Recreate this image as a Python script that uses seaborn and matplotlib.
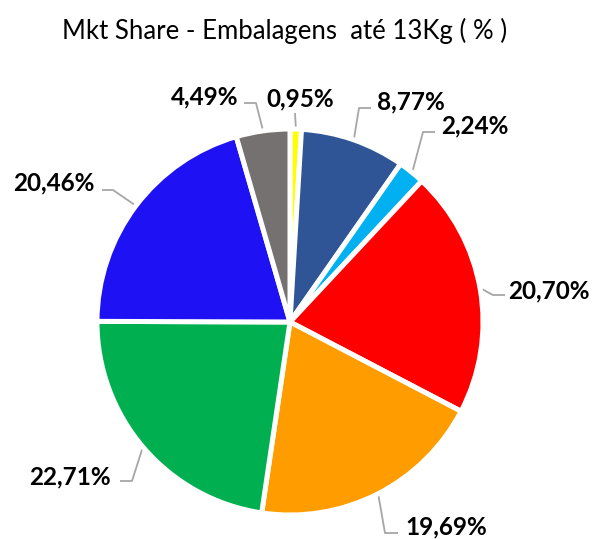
import matplotlib
matplotlib.use("Agg")
import matplotlib.pyplot as plt
import seaborn as sns
import numpy as np

sns.set_theme(style="white")
plt.rcParams['font.family'] = ['Lato', 'DejaVu Sans']

# Data
labels = ["0,95%", "8,77%", "2,24%", "20,70%", "19,69%", "22,71%", "20,46%", "4,49%"]
values = [0.95, 8.77, 2.24, 20.70, 19.69, 22.71, 20.46, 4.49]
colors = ["#FFFF00", "#2F5597", "#00B0F0", "#FF0000", "#FF9C00", "#00B050", "#1E12F5", "#767171"]

# Label placement (pixel positions in the 594x539 canvas): elbow point, line end, text anchor
elbow_px = [(295, 113), (359, 108), (423, 132), (493, 295), (385, 533), (132, 481), (113, 190), (256, 103)]
lend_x = [295, 371, 435, 505, 398, 120, 102, 244]
text_px = [(300, 99), (377, 102), (441, 126), (508, 291), (405, 527), (111, 477), (95, 183), (238, 97)]
text_ha = ["center", "left", "left", "left", "left", "right", "right", "right"]

W, H = 594, 539
cx, cy, R = 290, 322, 193

def to_data(p):
    return ((p[0] - cx) / R, (cy - p[1]) / R)

fig = plt.figure(figsize=(W / 100, H / 100), dpi=100)
ax = fig.add_axes([0, 0, 1, 1])
ax.pie(values, colors=colors, startangle=90, counterclock=False, radius=1.0,
       wedgeprops=dict(edgecolor="white", linewidth=3.6))
ax.set_xlim((0 - cx) / R, (W - cx) / R)
ax.set_ylim((cy - H) / R, cy / R)
ax.set_aspect("auto")
ax.axis("off")

total = sum(values)
cum = 0.0
for i, v in enumerate(values):
    mid = 90 - 360 * (cum + v / 2) / total
    cum += v
    sx, sy = 1.01 * np.cos(np.radians(mid)), 1.01 * np.sin(np.radians(mid))
    ex, ey = to_data(elbow_px[i])
    lx = (lend_x[i] - cx) / R
    tx, ty = to_data(text_px[i])
    xs, ys = [sx, ex, lx], [sy, ey, ey]
    ax.plot(xs, ys, color="#A6A6A6", lw=1.3, solid_capstyle="butt", zorder=0)
    ax.text(tx, ty, labels[i], ha=text_ha[i], va="center", fontsize=17.5,
            fontweight="bold", color="black")

fig.text(285 / W, 1 - 31 / H, "Mkt Share - Embalagens  até 13Kg ( % )", ha="center", va="center",
         fontsize=18.5, color="black")

fig.savefig("out.png", dpi=100, facecolor="white")
